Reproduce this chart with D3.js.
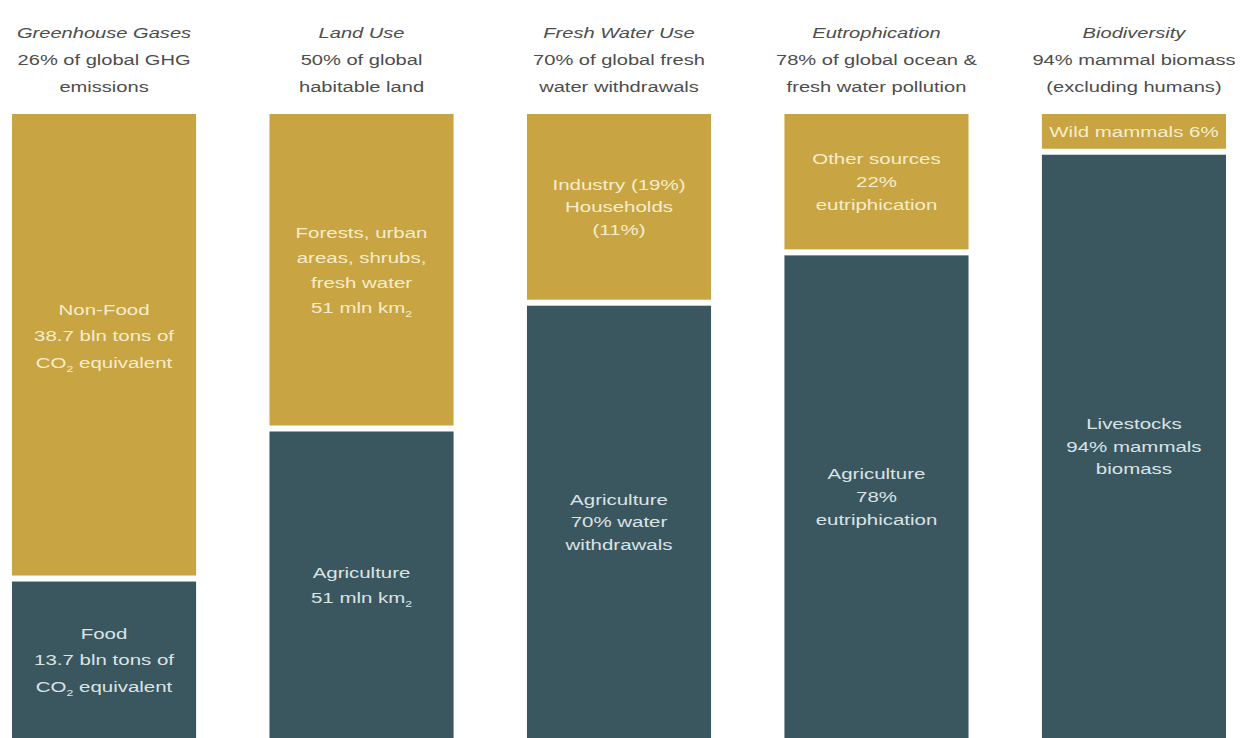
<!DOCTYPE html>
<html>
<head>
<meta charset="utf-8">
<script src="https://cdn.jsdelivr.net/npm/d3@7"></script>
<style>
  html, body { margin: 0; padding: 0; background: #ffffff; }
  svg { display: block; }
</style>
</head>
<body>
<svg id="chart" width="1243" height="738"></svg>
<script>
// Food system footprint: share of each environmental pressure caused by agriculture
const categories = ["Greenhouse Gases", "Land Use", "Fresh Water Use", "Eutrophication", "Biodiversity"];
const subtitles = [
  ["26% of global GHG", "emissions"],
  ["50% of global", "habitable land"],
  ["70% of global fresh", "water withdrawals"],
  ["78% of global ocean &", "fresh water pollution"],
  ["94% mammal biomass", "(excluding humans)"]
];
// Upper (non-agricultural) share and lower (agricultural) share of each column
const otherValues = [38.7, 51, 19 + 11, 22, 6];
const agriValues = [13.7, 51, 70, 78, 94];
const otherLabels = [
  ["Non-Food", "38.7 bln tons of", "CO_2 equivalent"],
  ["Forests, urban", "areas, shrubs,", "fresh water", "51 mln km_2"],
  ["Industry (19%)", "Households", "(11%)"],
  ["Other sources", "22%", "eutriphication"],
  ["Wild mammals 6%"]
];
const agriLabels = [
  ["Food", "13.7 bln tons of", "CO_2 equivalent"],
  ["Agriculture", "51 mln km_2"],
  ["Agriculture", "70% water", "withdrawals"],
  ["Agriculture", "78%", "eutriphication"],
  ["Livestocks", "94% mammals", "biomass"]
];

// ---- styling ----
const W = 1243, H = 738;
const barTop = 114, barBottom = 743;
const gap = 6;
const gold = "#C8A443", slate = "#3A5760";
const goldText = "#F6EDCB", slateText = "#DCE3E5";
const titleColor = "#4d4d4d";
const titleStretch = 1.34, labelStretch = 1.32;   // wide letterforms
const lineGaps = [26.5, 25, 22.5, 23, 22.5];

const svg = d3.select("#chart");

const x = d3.scaleBand()
  .domain(categories)
  .range([12, 1226])
  .paddingInner(0.285)
  .paddingOuter(0);

// Draws a multi-line, horizontally stretched text block centred at (cx, cy)
function textBlock(g, lines, cx, cy, size, lineGap, color, italicFirst, stretch) {
  const n = lines.length;
  const first = cy - (n - 1) * lineGap / 2 + size * 0.36;
  lines.forEach((line, i) => {
    const t = g.append("text")
      .attr("transform", `translate(${cx},${first + i * lineGap}) scale(${stretch},1)`)
      .attr("text-anchor", "middle")
      .attr("font-family", "'Liberation Sans', Arial, Helvetica, sans-serif")
      .attr("font-size", size)
      .attr("fill", color)
      .attr("font-style", italicFirst && i === 0 ? "italic" : "normal");
    // "_2" marks a subscript digit
    const parts = line.split(/_(\d)/);
    parts.forEach((p, j) => {
      if (p === "") return;
      const sp = t.append("tspan").text(p);
      if (j % 2 === 1) {
        sp.attr("font-size", size * 0.6).attr("dy", size * 0.25);
      } else if (j > 0) {
        sp.attr("dy", -size * 0.25);
      }
    });
  });
}

categories.forEach((cat, i) => {
  const total = otherValues[i] + agriValues[i];
  const y = d3.scaleLinear().domain([0, total]).range([barTop, barBottom]);
  const g = svg.append("g");
  const x0 = x(cat), bw = x.bandwidth(), cx = x0 + bw / 2;

  // header
  textBlock(g, [cat].concat(subtitles[i]), cx, 60, 15, 27, titleColor, true, titleStretch);

  // segments: non-agricultural share on top, agricultural below
  const segs = [
    { v0: 0, v1: otherValues[i], fill: gold, tc: goldText, lines: otherLabels[i] },
    { v0: otherValues[i], v1: total, fill: slate, tc: slateText, lines: agriLabels[i] }
  ];
  segs.forEach((s, k) => {
    const y0 = y(s.v0) + (k > 0 ? gap / 2 : 0);
    const y1 = y(s.v1) - (k === 0 ? gap / 2 : 0);
    g.append("rect")
      .attr("x", x0).attr("y", y0)
      .attr("width", bw).attr("height", y1 - y0)
      .attr("fill", s.fill);
    // tall segments keep their label a little above centre
    const mid = (y0 + Math.min(y1, H)) / 2;
    const cy = (y1 - y0) > 400 && k === 0 ? mid - 9 : mid;
    textBlock(g, s.lines, cx, cy, 15.5, lineGaps[i], s.tc, false, labelStretch);
  });
});
</script>
</body>
</html>
